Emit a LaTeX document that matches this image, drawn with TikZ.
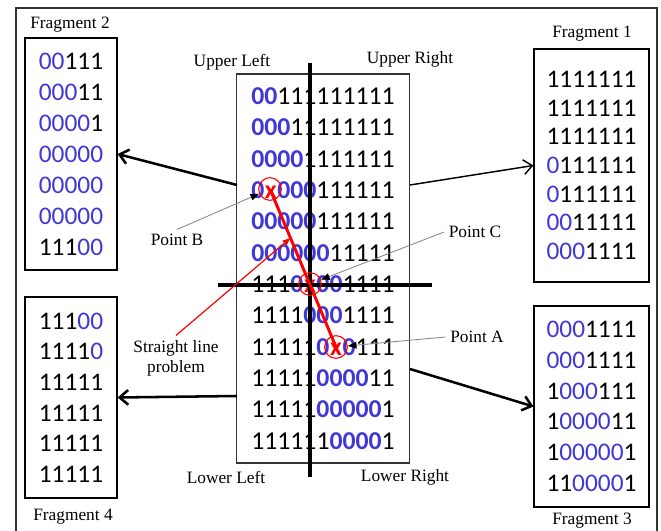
\documentclass[tikz,border=0pt]{standalone}
\usepackage{fontspec}
\setmainfont{Liberation Serif}
\newfontfamily\bitfont{Carlito}
\usetikzlibrary{arrows.meta,calc}
\definecolor{bitblue}{RGB}{64,56,214}
\newcommand{\zb}[1]{\textcolor{bitblue}{\bfseries #1}}
\newcommand{\zn}[1]{\textcolor{bitblue}{#1}}
\newcommand{\redx}{\makebox[0.507em]{\textcolor{red}{\bfseries x}}}

\begin{document}
\begin{tikzpicture}[x=0.75pt, y=-0.75pt,
  frag box/.style={draw, line width=0.9pt, align=center, inner sep=0pt, font=\bitfont\fontsize{19}{23}\selectfont},
  frag label/.style={font=\fontsize{13}{15}\selectfont},
  big arrow/.style={line width=1.9pt, -{Straight Barb[length=6.5pt,width=11pt]}},
  note arrow/.style={draw=gray, line width=0.6pt, -{Triangle[black,length=6.5pt,width=5pt]}},
  ring/.style={circle, draw=red, line width=0.8pt, minimum size=17pt, inner sep=0pt},
  cut line/.style={line width=2.3pt}]
\useasboundingbox (0,0) rectangle (661,531);
\draw[line width=0.8pt, black!80] (16,8) rectangle (657,560);

\begin{scope}
\node[frag box, draw=black!80, minimum width=129.75pt, minimum height=291.75pt, font=\bitfont\fontsize{19.3}{23.5}\selectfont] (grid) at (323,268.5)
  {\zb{00}111111111\\\zb{000}11111111\\\zb{0000}1111111\\\zb{0}\redx\zb{000}111111\\\zb{00000}111111\\\zb{000000}11111\\
   111\zb{0}\redx\zb{00}1111\\1111\zb{000}1111\\11111\zb{0}\redx\zb{0}111\\11111\zb{0000}11\\11111\zb{00000}1\\111111\zb{0000}1};
\node[frag box, minimum width=86.25pt, minimum height=174.75pt, font=\bitfont\fontsize{19}{21.5}\selectfont] (frag1) at (591.5,165.5)
  {1111111\\1111111\\1111111\\\zn{0}111111\\\zn{0}111111\\\zn{00}11111\\\zn{000}1111};
\node[frag box, minimum width=69pt, minimum height=174pt, font=\bitfont\fontsize{19}{23.25}\selectfont] (frag2) at (71,154)
  {\zn{00}111\\\zn{000}11\\\zn{0000}1\\\zn{00000}\\\zn{00000}\\\zn{00000}\\111\zn{00}};
\node[frag box, minimum width=86.25pt, minimum height=150.75pt] (frag3) at (591.5,406.5)
  {\zn{000}1111\\\zn{000}1111\\1\zn{000}111\\1\zn{0000}11\\1\zn{00000}1\\11\zn{0000}1};
\node[frag box, minimum width=69pt, minimum height=150.75pt] (frag4) at (71,397.5)
  {111\zn{00}\\1111\zn{0}\\11111\\11111\\11111\\11111};
\end{scope}

\begin{scope}[every node/.style={frag label}]
\node (lblF1) at (592,34) {Fragment 1};
\node (lblF2) at (70,25) {Fragment 2};
\node (lblF3) at (592,521) {Fragment 3};
\node (lblF4) at (73,517) {Fragment 4};
\node (lblUL) at (232,62) {Upper Left};
\node (lblUR) at (410,59) {Upper Right};
\node (lblLL) at (226,477) {Lower Left};
\node (lblLR) at (405,477) {Lower Right};
\node (lblA) at (477,337) {Point A};
\node (lblB) at (177,240) {Point B};
\node (lblC) at (475,232) {Point C};
\node[align=center] (lblS) at (176,358) {Straight line\\problem};
\end{scope}

% quadrant cuts
\coordinate (vtop) at (310,63);
\coordinate (vbot) at (310,477);
\coordinate (hleft) at (218,285);
\coordinate (hright) at (432,285);
\draw[cut line] (vtop) -- (vbot);
\draw[cut line] (hleft) -- (hright);

% points on the line
\node[ring] (pB) at (270,189) {};
\node[ring] (pC) at (310,284) {};
\node[ring] (pA) at (336,347) {};
\draw[red, line width=2.2pt] (pB.center) -- (pA.center);
\draw[red, line width=0.9pt, -{Triangle[length=6pt,width=4.5pt]}] (lblS.north) -- ($(pB)!0.31!(pA)$);

\draw[note arrow] (lblB.north) -- (pB);
\draw[note arrow] (lblC.west) -- (pC);
\draw[note arrow] (lblA.west) -- (pA);

% fragments
\coordinate (gUL) at (237,185);
\coordinate (gUR) at (410,185);
\coordinate (gLL) at (237,396);
\coordinate (gLR) at (410,369);
\draw[big arrow] (gUL) -- (frag2.east);
\draw[big arrow, line width=1.1pt] (gUR) -- (frag1.west);
\draw[big arrow] (gLL) -- (frag4.east);
\draw[big arrow] (gLR) -- (frag3.west);
\end{tikzpicture}
\end{document}
